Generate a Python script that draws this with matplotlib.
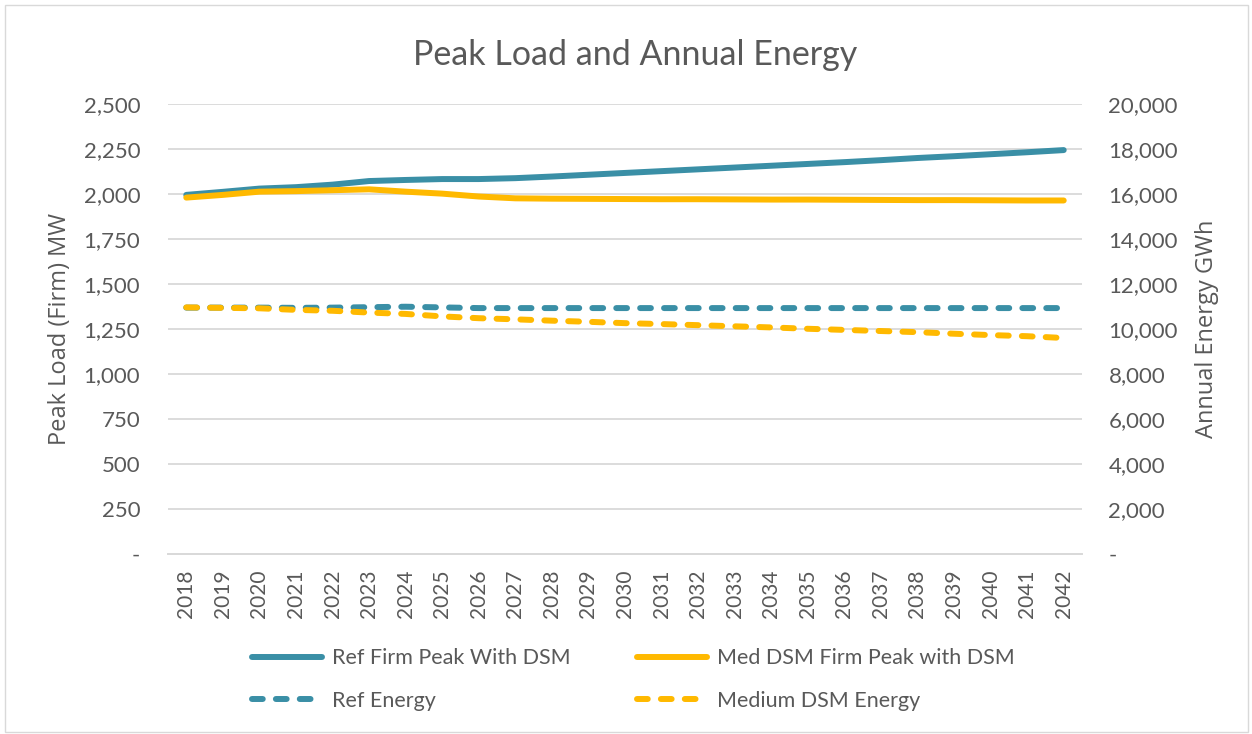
import matplotlib.pyplot as plt
from matplotlib.patches import Rectangle
from matplotlib.ticker import FuncFormatter

years = list(range(2018, 2043))

# MW, left axis
ref_peak = [1995, 2012, 2030, 2038, 2052, 2072, 2078, 2083, 2083, 2088,
            2097, 2107, 2117, 2127, 2137, 2147, 2157, 2167, 2177, 2188,
            2200, 2210, 2221, 2232, 2244]
med_peak = [1980, 1995, 2013, 2016, 2021, 2026, 2013, 2002, 1986, 1976,
            1974, 1973, 1972, 1971, 1971, 1970, 1969, 1969, 1968, 1967,
            1966, 1966, 1965, 1964, 1964]

# GWh, right axis
ref_energy = [10950, 10950, 10950, 10940, 10950, 10970, 10990, 10960, 10930, 10930,
              10930, 10930, 10930, 10930, 10930, 10930, 10930, 10930, 10930, 10930,
              10930, 10930, 10930, 10930, 10930]
med_energy = [10960, 10940, 10920, 10850, 10810, 10730, 10670, 10560, 10480, 10430,
              10370, 10320, 10260, 10220, 10170, 10120, 10070, 10010, 9960, 9910,
              9860, 9790, 9730, 9680, 9600]

teal = '#3A8FA6'
gold = '#FFB900'
txt = '#595959'

plt.rcParams['font.family'] = ['Lato', 'DejaVu Sans']

fig = plt.figure(figsize=(12.52, 7.34), dpi=100)
fig.patches.append(Rectangle((0.004, 0.003), 0.993, 0.99, transform=fig.transFigure,
                             fill=False, edgecolor='#D9D9D9', linewidth=1))
ax = fig.add_axes([168/1252, 1-554/734, (1082-168)/1252, (554-104)/734])
ax2 = ax.twinx()

l1, = ax.plot(years, ref_peak, color=teal, lw=4.3, solid_capstyle='round',
              label='Ref Firm Peak With DSM')
l2, = ax.plot(years, med_peak, color=gold, lw=4.3, solid_capstyle='round',
              label='Med DSM Firm Peak with DSM')
l3, = ax2.plot(years, ref_energy, color=teal, lw=4.3, dashes=(1.8, 2.2),
               dash_capstyle='round', label='Ref Energy')
l4, = ax2.plot(years, med_energy, color=gold, lw=4.3, dashes=(1.8, 2.2),
               dash_capstyle='round', label='Medium DSM Energy')

ax.set_ylim(0, 2500)
ax2.set_ylim(0, 20000)
ax.set_yticks(range(0, 2501, 250))
ax2.set_yticks(range(0, 20001, 2000))
fmt = FuncFormatter(lambda v, p: '-' if v == 0 else '{:,.0f}'.format(v))
ax.yaxis.set_major_formatter(fmt)
ax2.yaxis.set_major_formatter(fmt)
ax.set_xlim(2017.5, 2042.5)
ax.set_xticks(years)
ax.set_xticklabels([str(y) for y in years], rotation=90)

ax.grid(axis='y', color='#D9D9D9', lw=1.3)
ax.set_axisbelow(True)
for a in (ax, ax2):
    for s in ['top', 'left', 'right']:
        a.spines[s].set_visible(False)
    a.spines['bottom'].set_color('#D9D9D9')
    a.spines['bottom'].set_linewidth(1.3)
    a.tick_params(length=0, colors=txt, labelsize=16)
ax.tick_params(axis='y', pad=20)
ax2.tick_params(axis='y', pad=19)
ax.tick_params(axis='x', pad=11.5, labelsize=15)

ax.set_ylabel('Peak Load (Firm) MW', fontsize=17, color=txt, labelpad=8,
              family=['Open Sans', 'DejaVu Sans'])
ax2.set_ylabel('Annual Energy GWh', fontsize=17, color=txt, labelpad=12,
               family=['Open Sans', 'DejaVu Sans'])
fig.text(0.507, 0.925, 'Peak Load and Annual Energy', ha='center', va='center',
         fontsize=24.5, color=txt)

leg = fig.legend([l1, l3, l2, l4], [l.get_label() for l in (l1, l3, l2, l4)],
                 ncol=2, loc='center', bbox_to_anchor=(0.506, 0.074), frameon=False,
                 fontsize=15.5, handlelength=3.25, handletextpad=0.47,
                 columnspacing=3.1, labelspacing=1.05, labelcolor=txt)

fig.savefig('out.png', dpi=100)
